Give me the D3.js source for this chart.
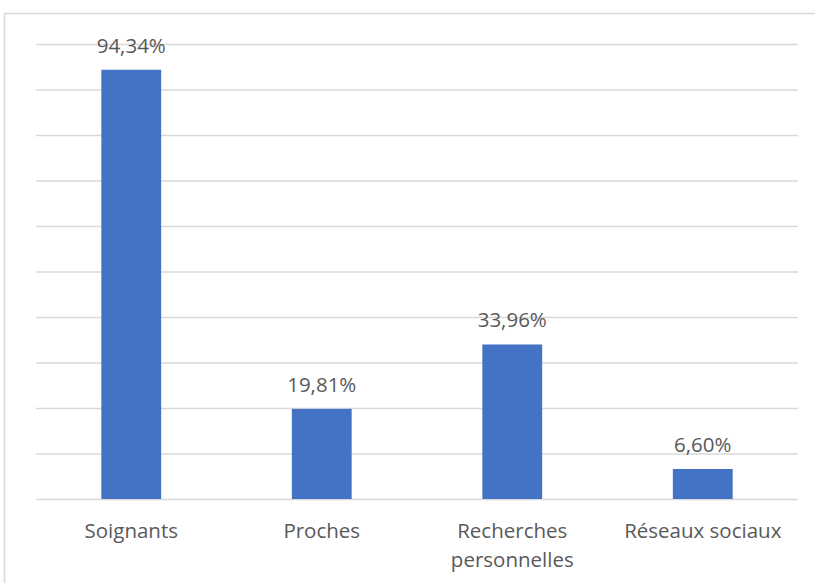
<!DOCTYPE html>
<html>
<head>
<meta charset="utf-8">
<script src="https://cdn.jsdelivr.net/npm/d3@7"></script>
<style>
  html, body { margin: 0; padding: 0; background: #ffffff; }
  svg { display: block; }
</style>
</head>
<body>
<svg id="chart" width="815" height="583"></svg>
<script>
// Sources d'information (pourcentages de répondants)
const categories = ["Soignants", "Proches", "Recherches personnelles", "Réseaux sociaux"];
const categoryLines = [["Soignants"], ["Proches"], ["Recherches", "personnelles"], ["Réseaux sociaux"]];
const values = [94.34, 19.81, 33.96, 6.60];
const valueLabels = ["94,34%", "19,81%", "33,96%", "6,60%"];
const gridTicks = [0, 10, 20, 30, 40, 50, 60, 70, 80, 90, 100];

const svg = d3.select("#chart");
const W = 815, H = 583;
const margin = { left: 36, right: 17, top: 44, bottom: 84 };
const font = "'Open Sans', 'Noto Sans', sans-serif";
const textColor = "#595959";
const fontSize = 20.5;

// Chart frame
svg.append("rect")
  .attr("x", 4.5).attr("y", 13.5)
  .attr("width", W + 10).attr("height", H + 10)
  .attr("fill", "#ffffff")
  .attr("stroke", "#d9d9d9").attr("stroke-width", 1.5);

const x = d3.scaleBand()
  .domain(categories)
  .range([margin.left, W - margin.right])
  .paddingInner(0.686).paddingOuter(0.343);

const y = d3.scaleLinear()
  .domain([0, 100])
  .range([H - margin.bottom, margin.top]);

// Horizontal gridlines
const gridAxis = d3.axisLeft(y)
  .tickValues(gridTicks)
  .tickSize(-(W - margin.right - margin.left))
  .tickFormat("");
const g = svg.append("g")
  .attr("transform", `translate(${margin.left},0)`)
  .call(gridAxis);
g.select(".domain").remove();
g.selectAll(".tick line").attr("stroke", "#d9d9d9").attr("stroke-width", 1.6);

// Bars
svg.append("g").selectAll("rect")
  .data(categories)
  .join("rect")
  .attr("x", d => x(d))
  .attr("width", x.bandwidth())
  .attr("y", (d, i) => y(values[i]))
  .attr("height", (d, i) => y(0) - y(values[i]))
  .attr("fill", "#4472c4");

// Value labels
svg.append("g").selectAll("text")
  .data(categories)
  .join("text")
  .attr("x", d => x(d) + x.bandwidth() / 2)
  .attr("y", (d, i) => y(values[i]) - 17)
  .attr("text-anchor", "middle")
  .attr("font-family", font)
  .attr("font-size", fontSize)
  .attr("fill", textColor)
  .text((d, i) => valueLabels[i]);

// Category axis labels
const xAxis = d3.axisBottom(x).tickSize(0).tickFormat("");
const ga = svg.append("g")
  .attr("transform", `translate(0,${y(0)})`)
  .call(xAxis);
ga.select(".domain").remove();
ga.selectAll(".tick").each(function (d, i) {
  const t = d3.select(this).append("text")
    .attr("text-anchor", "middle")
    .attr("font-family", font)
    .attr("font-size", fontSize)
    .attr("fill", textColor)
    .attr("y", 38.5);
  categoryLines[i].forEach((line, k) => {
    t.append("tspan").attr("x", 0).attr("dy", k === 0 ? 0 : 29.5).text(line);
  });
});
</script>
</body>
</html>
